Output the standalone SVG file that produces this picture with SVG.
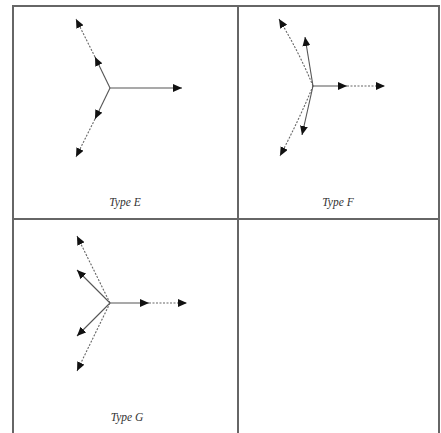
<svg xmlns="http://www.w3.org/2000/svg" width="441" height="433" viewBox="0 0 441 433">
<style>
.frame{fill:none;stroke:#666;stroke-width:2}
.s{fill:none;stroke:#555;stroke-width:1.1;marker-end:url(#ah)}
.d{fill:none;stroke:#666;stroke-width:1.1;stroke-dasharray:2,1.5;marker-end:url(#ah)}
.lbl{font-family:"Liberation Serif",serif;font-style:italic;font-size:11.5px;fill:#333;text-anchor:middle}
</style>
<defs>
<marker id="ah" viewBox="0 0 9 8" refX="9" refY="4" markerWidth="9" markerHeight="8" markerUnits="userSpaceOnUse" orient="auto">
<path d="M0,0 L9,4 L0,8 z" fill="#111"/>
</marker>
</defs>
<g id="frame">
<rect class="frame" x="13" y="6" width="426" height="430"/>
<line class="frame" x1="238" y1="6" x2="238" y2="433"/>
<line class="frame" x1="13" y1="219" x2="439" y2="219"/>
</g>
<g id="connectors">
<!-- Type E -->
<line class="s" x1="110" y1="88" x2="182" y2="88"/>
<line class="s" x1="110" y1="88" x2="95" y2="57"/>
<line class="d" x1="95" y1="57" x2="76" y2="19"/>
<line class="s" x1="110" y1="88" x2="95" y2="119"/>
<line class="d" x1="95" y1="119" x2="76" y2="157"/>
<!-- Type F -->
<line class="s" x1="313" y1="86" x2="347" y2="86"/>
<line class="d" x1="347" y1="86" x2="385" y2="86"/>
<path class="d" d="M313,86 Q299,52 279,19"/>
<line class="s" x1="313" y1="86" x2="305" y2="37"/>
<path class="d" d="M313,86 Q299,120 280,156"/>
<line class="s" x1="313" y1="86" x2="302" y2="135"/>
<!-- Type G -->
<line class="s" x1="110" y1="303" x2="149" y2="303"/>
<line class="d" x1="149" y1="303" x2="187" y2="303"/>
<line class="d" x1="110" y1="303" x2="77" y2="236"/>
<line class="s" x1="110" y1="303" x2="77" y2="270"/>
<line class="s" x1="110" y1="303" x2="77" y2="336"/>
<line class="d" x1="110" y1="303" x2="77" y2="371"/>
</g>
<g id="typeE"><text class="lbl" x="125" y="206">Type E</text></g>
<g id="typeF"><text class="lbl" x="338" y="206">Type F</text></g>
<g id="typeG"><text class="lbl" x="127" y="421">Type G</text></g>
</svg>
